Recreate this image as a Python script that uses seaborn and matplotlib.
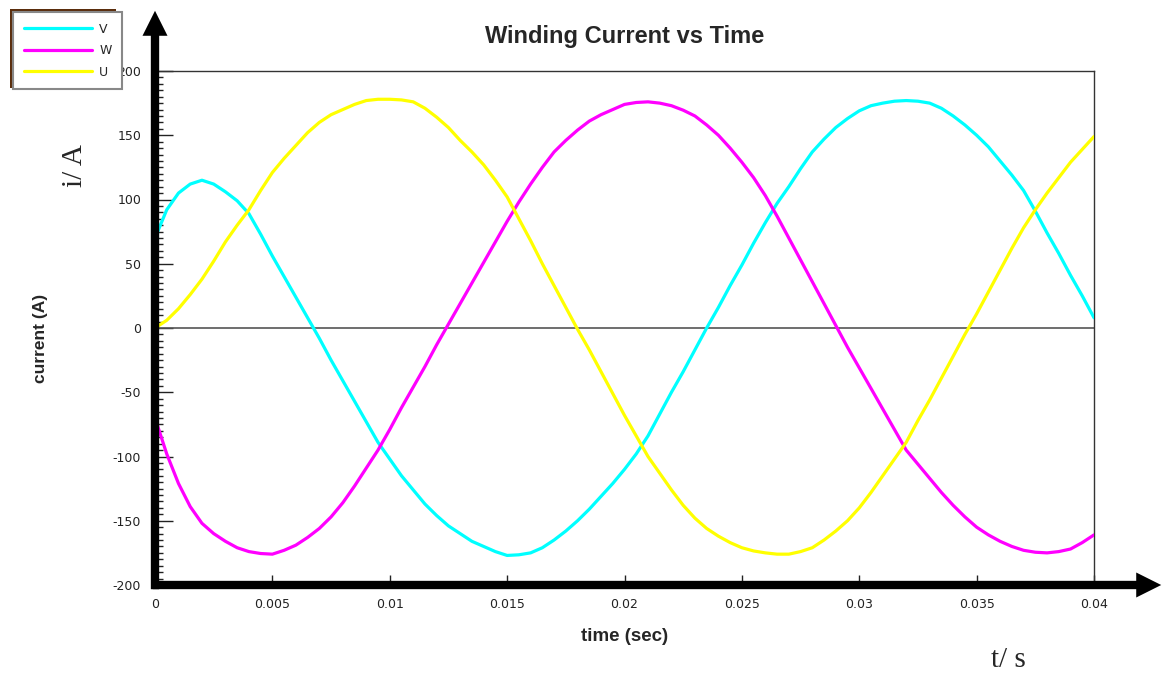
import numpy as np
import pandas as pd
import matplotlib
matplotlib.use("Agg")
import matplotlib.pyplot as plt
import seaborn as sns
from matplotlib.patches import Rectangle
from matplotlib.ticker import MultipleLocator

# time samples (ms) and winding currents (A)
time_ms = [0, 0.5, 1, 1.5, 2, 2.5, 3, 3.5, 4, 4.5, 5, 5.5, 6, 6.5, 7, 7.5,
           8, 8.5, 9, 9.5, 10, 10.5, 11, 11.5, 12, 12.5, 13, 13.5, 14, 14.5,
           15, 15.5, 16, 16.5, 17, 17.5, 18, 18.5, 19, 19.5, 20, 20.5, 21,
           21.5, 22, 22.5, 23, 23.5, 24, 24.5, 25, 25.5, 26, 26.5, 27, 27.5,
           28, 28.5, 29, 29.5, 30, 30.5, 31, 31.5, 32, 32.5, 33, 33.5, 34,
           34.5, 35, 35.5, 36, 36.5, 37, 37.5, 38, 38.5, 39, 39.5, 40]
v_current = [70, 92, 105, 112, 115, 112, 106, 99, 89, 73, 56, 40, 24, 8,
             -8, -25, -41, -57, -73, -89, -102, -115, -126, -137, -146, -154,
             -160, -166, -170, -174, -177, -176.5, -175, -171, -165, -158,
             -150, -141, -131, -121, -110, -98, -84, -67, -50, -34, -17, 0,
             16, 33, 49, 66, 82, 97, 110, 124, 137, 147, 156, 163, 169, 173,
             175, 176.5, 177, 176.5, 175, 171, 165, 158, 150, 141, 130, 119,
             107, 91, 74, 58, 41, 25, 8]
w_current = [-70, -98, -121, -139, -152, -160, -166, -171, -174, -175.5,
             -176, -173, -169, -163, -156, -147, -136, -123, -109, -95, -79,
             -62, -46, -30, -13, 3, 19, 35, 51, 67, 83, 98, 112, 125, 137,
             146, 154, 161, 166, 170, 174, 175.5, 176, 175, 173, 169.5, 165,
             158, 150, 140, 129, 117, 103, 87, 70, 53, 36, 19, 2, -15, -31,
             -47, -63, -79, -95, -106, -117, -128, -138, -147, -155, -161,
             -166, -170, -173, -174.5, -175, -174, -172, -167, -161]
u_current = [0, 6, 15, 26, 38, 52, 67, 80, 92, 107, 121, 132, 142, 152, 160,
             166, 170, 174, 177, 178, 178, 177.5, 176, 171, 164, 156, 146,
             137, 127, 115, 102, 85, 68, 50, 33, 16, -1, -17, -34, -51, -68,
             -84, -100, -113, -126, -138, -148, -156, -162, -167, -171,
             -173.5, -175, -176, -176, -174, -171, -165, -158, -150, -140,
             -128, -115, -102, -89, -72, -56, -39, -22, -5, 11, 28, 45, 62,
             78, 92, 105, 117, 129, 139, 149]

phase_names = ["V", "W", "U"]
phase_colors = ["#00FFFF", "#FF00FF", "#FFFF00"]

x_ticks = [0, 0.005, 0.01, 0.015, 0.02, 0.025, 0.03, 0.035, 0.04]
x_tick_labels = ["0", "0.005", "0.01", "0.015", "0.02", "0.025", "0.03", "0.035", "0.04"]
y_ticks = [-200, -150, -100, -50, 0, 50, 100, 150, 200]
y_tick_labels = ["-200", "-150", "-100", "-50", "0", "50", "100", "150", "200"]

time_s = [t / 1000 for t in time_ms]
df = pd.DataFrame({
    "time": time_s * 3,
    "current": v_current + w_current + u_current,
    "phase": ["V"] * len(time_s) + ["W"] * len(time_s) + ["U"] * len(time_s),
})

sns.set_style("white")
plt.rcParams["font.family"] = ["DejaVu Sans"]
label_font = ["Liberation Sans", "DejaVu Sans"]

W, H = 1164, 678
fig = plt.figure(figsize=(W / 100, H / 100), dpi=100)
fig.patch.set_facecolor("white")
# axes box in pixels: x 155..1094, y 71..585
ax = fig.add_axes([155 / W, 1 - 585 / H, (1094 - 155) / W, (585 - 71) / H])

ax.axhline(0, color="#555555", lw=1.2, zorder=1)
sns.lineplot(data=df, x="time", y="current", hue="phase",
             palette=dict(zip(phase_names, phase_colors)), hue_order=phase_names,
             linewidth=2.3, ax=ax, zorder=3)

ax.set_xlim(0, 0.04)
ax.set_ylim(-200, 200)
ax.set_xticks(x_ticks)
ax.set_xticklabels(x_tick_labels)
ax.set_yticks(y_ticks)
ax.set_yticklabels(y_tick_labels)
ax.yaxis.set_minor_locator(MultipleLocator(5))
ax.tick_params(axis="y", which="major", direction="in", length=13, width=1,
               pad=10, labelsize=9, colors="#222222", left=True)
ax.tick_params(axis="y", which="minor", direction="in", length=5.5, width=1,
               left=True, color="#222222")
ax.tick_params(axis="x", which="major", direction="in", length=7, width=1,
               pad=9, labelsize=9, colors="#222222", bottom=True)

for side in ["top", "right"]:
    ax.spines[side].set_color("#333333")
    ax.spines[side].set_linewidth(1)
ax.spines["left"].set_visible(False)
ax.spines["bottom"].set_visible(False)

# thick arrow axes
arrow_kw = dict(arrowstyle="simple,head_length=0.9,head_width=0.9,tail_width=0.3",
                color="black", mutation_scale=20, lw=0)
ax.annotate("", xy=(0, (585 - 8) / 514), xytext=(0, (585 - 592) / 514),
            xycoords="axes fraction", arrowprops=arrow_kw, annotation_clip=False)
ax.annotate("", xy=((1164 - 155) / 939, 0), xytext=((150 - 155) / 939, 0),
            xycoords="axes fraction", arrowprops=arrow_kw, annotation_clip=False)

ax.set_title("Winding Current vs Time", fontsize=17, fontweight="bold",
             family=label_font, pad=20)
ax.set_xlabel("time (sec)", fontsize=13.5, fontweight="bold", family=label_font)
ax.set_ylabel("current (A)", fontsize=12.5, fontweight="bold", family=label_font)
ax.xaxis.set_label_coords(0.5, (585 - 628) / 514)
ax.yaxis.set_label_coords((48 - 155) / 939, (585 - 338) / 514)

handles, labels = ax.get_legend_handles_labels()
ax.legend(handles, labels, loc="upper left",
          bbox_to_anchor=(13 / W, 1 - 12 / H), bbox_transform=fig.transFigure,
          fontsize=9, handlelength=5.5, handletextpad=0.55, labelspacing=0.68,
          borderpad=0.85, borderaxespad=0, frameon=True, fancybox=False,
          edgecolor="#888888", framealpha=1)
ax.get_legend().get_frame().set_linewidth(1.5)
fig.add_artist(Rectangle((10 / W, 1 - 88 / H), 106 / W, 79 / H,
                         transform=fig.transFigure, facecolor="#5a2d0c",
                         edgecolor="none", zorder=-1))

# hand-added axis labels
fig.text(75 / W, 1 - 166 / H, "i/ A", rotation=90, ha="center", va="center",
         fontsize=21, family=["Liberation Serif", "DejaVu Serif"])
fig.text(1008 / W, 1 - 660 / H, "t/ s", ha="center", va="center",
         fontsize=21, family=["Liberation Serif", "DejaVu Serif"])

fig.savefig("out.png", dpi=100)
